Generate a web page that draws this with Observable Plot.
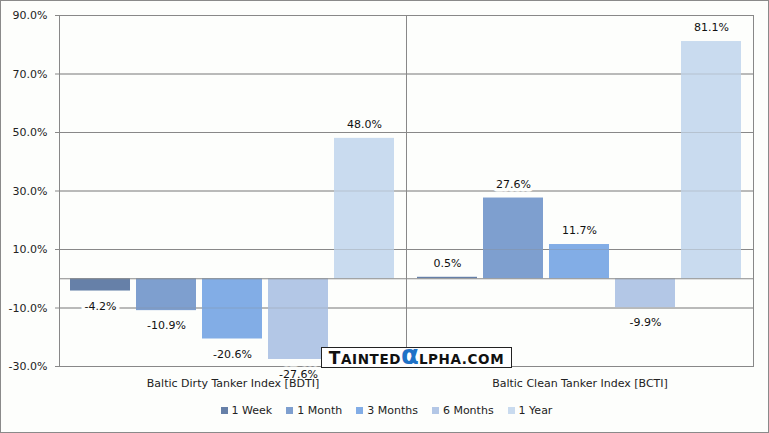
<!DOCTYPE html>
<html>
<head>
<meta charset="utf-8">
<script src="https://cdn.jsdelivr.net/npm/d3@7"></script>
<script src="https://cdn.jsdelivr.net/npm/@observablehq/plot@0.6"></script>
<style>
  body { margin: 0; background: #ffffff; }
  #chart {
    position: relative; width: 769px; height: 433px; box-sizing: border-box;
    border: 1px solid #8a8a8a; background: #fdfefc; overflow: hidden;
    font-family: "DejaVu Sans", Verdana, sans-serif;
  }
  #legend {
    display: flex; justify-content: center; gap: 14px; font-size: 11px; color: #222;
    padding-top: 4px; margin-left: 4px;
  }
  #legend .item { display: flex; align-items: center; gap: 4px; }
  #legend .sw { width: 7px; height: 7px; display: inline-block; }
  #wm {
    position: absolute; left: 320px; top: 346px; width: 189px; height: 19px;
    border: 1px solid #222; background: #fff; box-sizing: content-box;
    font-family: "DejaVu Sans", Verdana, sans-serif; font-weight: bold;
    font-size: 17px; line-height: 20px; text-align: center; color: #111;
    letter-spacing: 0.6px; white-space: nowrap;
  }
  #wm .sc { font-size: 13.5px; }
  #wm .al { color: #1f72c6; font-size: 26px; font-weight: bold; line-height: 10px; letter-spacing: 0; }
</style>
</head>
<body>
<div id="chart"></div>
<script>
const indices = ["Baltic Dirty Tanker Index [BDTI]", "Baltic Clean Tanker Index [BCTI]"];
const periods = ["1 Week", "1 Month", "3 Months", "6 Months", "1 Year"];
const bdti = [-4.2, -10.9, -20.6, -27.6, 48.0];
const bcti = [0.5, 27.6, 11.7, -9.9, 81.1];
const colors = ["#6680a8", "#7e9fcf", "#82ade6", "#b3c7e6", "#c9dbef"];
const yTicks = [-30, -10, 10, 30, 50, 70, 90];

const series = [bdti, bcti];
const data = [];
indices.forEach((idx, i) => periods.forEach((p, j) => data.push({index: idx, period: p, value: series[i][j]})));

const fmt = v => v.toFixed(1) + "%";

const plot = Plot.plot({
  width: 767,
  height: 399,
  marginTop: 14,
  marginBottom: 34,
  marginLeft: 57,
  marginRight: 15,
  style: {fontFamily: "DejaVu Sans, Verdana, sans-serif", fontSize: "11px", background: "transparent", color: "#222"},
  fx: {domain: indices, padding: 0, label: null, axis: null},
  x: {domain: periods, paddingInner: 0.09, paddingOuter: 0.135, axis: null},
  y: {domain: [-30, 90], label: null, axis: null},
  color: {domain: periods, range: colors},
  marks: [
    Plot.gridY(yTicks, {stroke: "#888", strokeOpacity: 1}),
    Plot.barY(data, {fx: "index", x: "period", y: "value", fill: "period"}),
    Plot.gridY(yTicks, {stroke: "#888", strokeOpacity: 0.3}),
    Plot.ruleY([0], {stroke: "#888"}),
    Plot.frame({stroke: "#888"}),
    Plot.axisY(yTicks, {tickFormat: fmt, tickSize: 4, tickPadding: 8, stroke: "#888", fill: "#222", label: null}),
    Plot.text(data.filter(d => d.value >= 0), {fx: "index", x: "period", y: "value", text: d => fmt(d.value), dy: -14, fill: "#111", stroke: "#fdfefc", strokeWidth: 7, paintOrder: "stroke"}),
    Plot.text(data.filter(d => d.value < 0), {fx: "index", x: "period", y: "value", text: d => fmt(d.value), dy: 15, fill: "#111", stroke: "#fdfefc", strokeWidth: 7, paintOrder: "stroke"}),
    Plot.axisFx({anchor: "bottom", tickSize: 0, tickPadding: 13, label: null, fill: "#222"})
  ]
});

const chart = document.getElementById("chart");
chart.appendChild(plot);

const legend = document.createElement("div");
legend.id = "legend";
periods.forEach((p, i) => {
  const it = document.createElement("div");
  it.className = "item";
  const sw = document.createElement("span");
  sw.className = "sw";
  sw.style.background = colors[i];
  const t = document.createElement("span");
  t.textContent = p;
  it.appendChild(sw); it.appendChild(t);
  legend.appendChild(it);
});
chart.appendChild(legend);

const wm = document.createElement("div");
wm.id = "wm";
wm.innerHTML = 'T<span class="sc">AINTED</span><span class="al">α</span><span class="sc">LPHA.COM</span>';
chart.appendChild(wm);
</script>
</body>
</html>
